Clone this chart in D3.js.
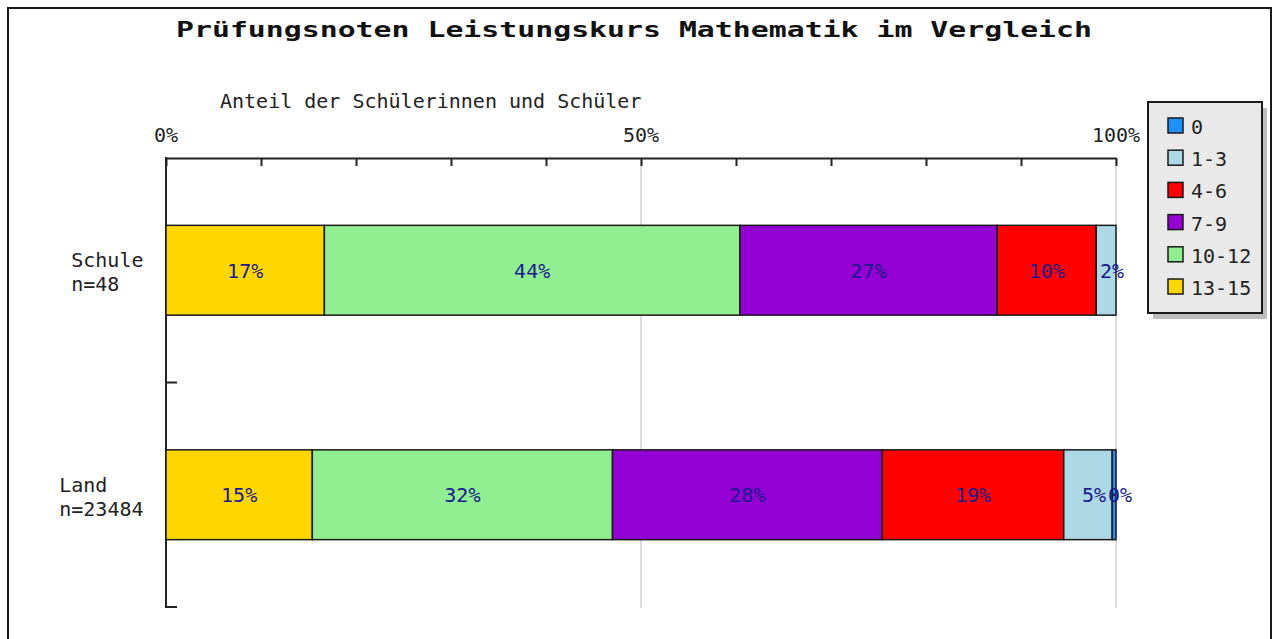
<!DOCTYPE html>
<html>
<head>
<meta charset="utf-8">
<script src="https://cdn.jsdelivr.net/npm/d3@7"></script>
<style>
  html, body { margin: 0; padding: 0; background: #fff; }
  svg { display: block; }
  text { font-family: "DejaVu Sans Mono", "Liberation Mono", monospace; }
</style>
</head>
<body>
<svg id="chart" width="1277" height="639"></svg>
<script>
// ---- data ----
const title = "Prüfungsnoten Leistungskurs Mathematik im Vergleich";
const axisTitle = "Anteil der Schülerinnen und Schüler";
const categories = ["Schule", "Land"];
const categorySizes = ["n=48", "n=23484"];
const seriesKeys = ["0", "1-3", "4-6", "7-9", "10-12", "13-15"];
const seriesColors = ["#1e90ff", "#add8e6", "#ff0000", "#9400d3", "#90ee90", "#ffd700"];
const values0 = [0, 0.4];
const values1to3 = [2.08, 5.1];
const values4to6 = [10.42, 19.1];
const values7to9 = [27.08, 28.4];
const values10to12 = [43.75, 31.6];
const values13to15 = [16.67, 15.4];
const tickValues = [0, 10, 20, 30, 40, 50, 60, 70, 80, 90, 100];
const tickLabels = ["0%", "50%", "100%"];
const labelTicks = [0, 50, 100];

const seriesValues = [values0, values1to3, values4to6, values7to9, values10to12, values13to15];
const rows = categories.map((c, i) => {
  const r = { cat: c, n: categorySizes[i] };
  seriesKeys.forEach((k, j) => { r[k] = seriesValues[j][i]; });
  return r;
});
const color = d3.scaleOrdinal().domain(seriesKeys).range(seriesColors);

// ---- layout ----
const svg = d3.select("#chart");
const plotL = 166, plotR = 1116, plotT = 158, plotB = 607;

const x = d3.scaleLinear().domain([0, 100]).range([plotL, plotR]);
const y = d3.scaleBand().domain(categories).range([plotT, plotB])
  .paddingInner(0.6).paddingOuter(0.3);

// outer frame
svg.append("rect").attr("x", 8).attr("y", 8).attr("width", 1263).attr("height", 660)
  .attr("fill", "#fff").attr("stroke", "#1a1a1a").attr("stroke-width", 2);

// title
svg.append("text").attr("x", 176).attr("y", 37)
  .attr("font-size", 21).attr("font-weight", "bold").attr("fill", "#111")
  .attr("textLength", 916).attr("lengthAdjust", "spacingAndGlyphs")
  .text(title);

// axis title
svg.append("text").attr("x", 220).attr("y", 108)
  .attr("font-size", 20).attr("fill", "#222").text(axisTitle);

// gridlines
svg.append("g").selectAll("line").data([50, 100]).join("line")
  .attr("x1", d => x(d)).attr("x2", d => x(d))
  .attr("y1", plotT).attr("y2", plotB + 1)
  .attr("stroke", "#dddddd").attr("stroke-width", 2);

// top axis
const xAxis = d3.axisTop(x).tickValues(tickValues).tickSizeInner(-8).tickSizeOuter(0).tickFormat("");
const gx = svg.append("g").attr("transform", `translate(0,${plotT})`).call(xAxis);
gx.select(".domain").attr("stroke", "#222").attr("stroke-width", 2);
gx.selectAll(".tick line").attr("stroke", "#222").attr("stroke-width", 2);

svg.append("g").selectAll("text").data(labelTicks).join("text")
  .attr("x", d => x(d)).attr("y", 142).attr("text-anchor", "middle")
  .attr("font-size", 20).attr("fill", "#222")
  .text((d, i) => tickLabels[i]);

// left axis
const step = y.step();
const yStart = y.range()[0];
svg.append("line").attr("x1", plotL).attr("x2", plotL)
  .attr("y1", plotT - 1).attr("y2", plotB + 1)
  .attr("stroke", "#222").attr("stroke-width", 2);
svg.append("g").selectAll("line").data(categories).join("line")
  .attr("x1", plotL).attr("x2", plotL + 11)
  .attr("y1", (d, i) => yStart + step * (i + 1)).attr("y2", (d, i) => yStart + step * (i + 1))
  .attr("stroke", "#222").attr("stroke-width", 2);

// category labels
const charW = 12.04;
const catG = svg.append("g");
rows.forEach(r => {
  const maxLen = Math.max(r.cat.length, r.n.length);
  const cx = 143.5 - maxLen * charW;
  const cy = y(r.cat) + y.bandwidth() / 2;
  const t = catG.append("text").attr("font-size", 20).attr("fill", "#222");
  t.append("tspan").attr("x", cx).attr("y", cy - 3).text(r.cat);
  t.append("tspan").attr("x", cx).attr("y", cy + 21).text(r.n);
});

// stacked bars
const stackKeys = seriesKeys.slice().reverse();
const stacked = d3.stack().keys(stackKeys)(rows);
const barG = svg.append("g");
stacked.forEach(layer => {
  barG.append("g").selectAll("rect").data(layer.filter(d => d[1] - d[0] > 0)).join("rect")
    .attr("x", d => x(d[0]))
    .attr("y", d => y(d.data.cat))
    .attr("width", d => x(d[1]) - x(d[0]))
    .attr("height", y.bandwidth())
    .attr("fill", color(layer.key))
    .attr("stroke", "#1a1a1a").attr("stroke-width", 1.5);
});
// value labels (right-aligned at centre + 1.5 chars)
const labG = svg.append("g");
stacked.forEach(layer => {
  labG.append("g").selectAll("text").data(layer.filter(d => d[1] - d[0] > 0)).join("text")
    .attr("x", d => (x(d[0]) + x(d[1])) / 2 + 1.5 * charW)
    .attr("y", d => y(d.data.cat) + y.bandwidth() / 2 + 7.5)
    .attr("text-anchor", "end")
    .attr("font-size", 20).attr("fill", "#1a1a8f")
    .text(d => Math.round(d[1] - d[0]) + "%");
});

// legend
const lgX = 1148, lgY = 102, lgW = 114, lgH = 211;
svg.append("rect").attr("x", lgX + 5).attr("y", lgY + 6).attr("width", lgW).attr("height", lgH)
  .attr("fill", "#bdbdbd");
svg.append("rect").attr("x", lgX).attr("y", lgY).attr("width", lgW).attr("height", lgH)
  .attr("fill", "#e9e9e9").attr("stroke", "#1a1a1a").attr("stroke-width", 2);
const lg = svg.append("g").selectAll("g").data(seriesKeys).join("g")
  .attr("transform", (d, i) => `translate(${lgX + 20},${118 + i * 32.2})`);
lg.append("rect").attr("x", 0).attr("y", 0).attr("width", 15).attr("height", 15)
  .attr("fill", d => color(d)).attr("stroke", "#1a1a1a").attr("stroke-width", 1.5);
lg.append("text").attr("x", 23).attr("y", 16).attr("font-size", 20).attr("fill", "#222")
  .text(d => d);
</script>
</body>
</html>
